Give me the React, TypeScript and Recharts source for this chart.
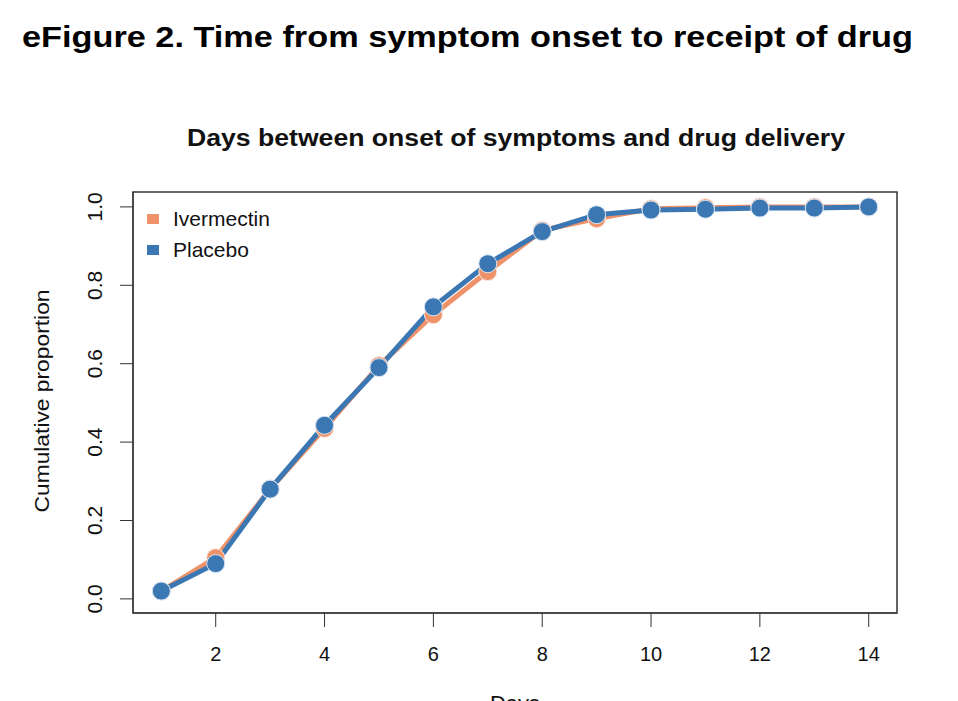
import React from 'react';
import { LineChart, Line, XAxis, YAxis, ReferenceArea, Legend } from 'recharts';

const days = [1, 2, 3, 4, 5, 6, 7, 8, 9, 10, 11, 12, 13, 14];
const ivermectin = [0.02, 0.105, 0.28, 0.435, 0.595, 0.725, 0.835, 0.94, 0.97, 0.995, 0.998, 1.0, 1.0, 1.0];
const placebo = [0.02, 0.09, 0.28, 0.443, 0.59, 0.745, 0.855, 0.937, 0.98, 0.992, 0.994, 0.997, 0.997, 1.0];
const xTicks = [2, 4, 6, 8, 10, 12, 14];
const yTicks = [0, 0.2, 0.4, 0.6, 0.8, 1.0];

const data = days.map((d, i) => ({ day: d, ivermectin: ivermectin[i], placebo: placebo[i] }));

const ORANGE = '#ef9269';
const BLUE = '#3b77b3';
const FONT = '"Liberation Sans", Arial, Helvetica, sans-serif';

const YTick = (props: any) => {
  const { x, y, payload } = props;
  return (
    <text x={x} y={y} transform={`rotate(-90 ${x} ${y})`} textAnchor="middle" fontSize={21} fill="#111" fontFamily={FONT}>
      {payload.value.toFixed(1)}
    </text>
  );
};

const XTick = (props: any) => {
  const { x, y, payload } = props;
  return (
    <text x={x} y={y + 32} textAnchor="middle" fontSize={20} fill="#111" fontFamily={FONT}>
      {payload.value}
    </text>
  );
};

const LegendBox = (props: any) => (
  <div style={{ fontFamily: FONT, fontSize: 21, color: '#111', lineHeight: '31px' }}>
    {props.payload.map((p: any) => (
      <div key={p.value} style={{ display: 'flex', alignItems: 'center', height: 31 }}>
        <span style={{ width: 12, height: 10, background: p.color, display: 'inline-block', marginRight: 14 }} />
        {p.value}
      </div>
    ))}
  </div>
);

export default function App() {
  return (
    <div style={{ position: 'absolute', left: 0, top: 0, width: 958, height: 701, background: '#fff', overflow: 'hidden' }}>
      <div style={{ position: 'absolute', left: 0, top: 0 }}>
        <LineChart width={958} height={701} data={data} margin={{ top: 192, right: 61, bottom: 48, left: 20 }}>
          <XAxis
            dataKey="day"
            type="number"
            domain={[0.48, 14.52]}
            ticks={xTicks}
            tickSize={14}
            tick={<XTick />}
            stroke="#333"
            height={40}
            label={({ viewBox }: any) => (
              <text x={viewBox.x + viewBox.width / 2} y={711} textAnchor="middle" fontSize={22} fill="#111" fontFamily={FONT}>
                Days
              </text>
            )}
          />
          <YAxis
            type="number"
            domain={[-0.036, 1.038]}
            ticks={yTicks}
            tickSize={13}
            tickMargin={18}
            tick={<YTick />}
            stroke="#333"
            width={113}
            label={() => (
              <text
                x={49}
                y={401}
                transform={`rotate(-90 49 401)`}
                textAnchor="middle"
                fontSize={21}
                textLength={223}
                lengthAdjust="spacingAndGlyphs"
                fill="#111"
                fontFamily={FONT}
              >
                Cumulative proportion
              </text>
            )}
          />
          <ReferenceArea x1={0.48} x2={14.52} y1={-0.036} y2={1.038} fill="none" stroke="#333" strokeWidth={1.5} ifOverflow="visible" />
          <Legend
            layout="vertical"
            verticalAlign="middle"
            align="center"
            content={<LegendBox />}
            wrapperStyle={{ position: 'absolute', left: 147, top: 203, width: 200 }}
          />
          <Line
            name="Ivermectin"
            dataKey="ivermectin"
            stroke={ORANGE}
            strokeWidth={5}
            dot={{ r: 9, fill: ORANGE, stroke: '#fbe3d8', strokeWidth: 1 }}
            isAnimationActive={false}
          />
          <Line
            name="Placebo"
            dataKey="placebo"
            stroke={BLUE}
            strokeWidth={5}
            dot={{ r: 9, fill: BLUE, stroke: '#d6e4f2', strokeWidth: 1 }}
            isAnimationActive={false}
          />
        </LineChart>
      </div>
      <svg width={958} height={180} style={{ position: 'absolute', left: 0, top: 0, pointerEvents: 'none' }}>
        <text x={22} y={47} fontSize={30} fontWeight="bold" fontFamily={FONT} fill="#000" textLength={891} lengthAdjust="spacingAndGlyphs">
          eFigure 2. Time from symptom onset to receipt of drug
        </text>
        <text x={187} y={146} fontSize={23} fontWeight="bold" fontFamily={FONT} fill="#111" textLength={658} lengthAdjust="spacingAndGlyphs">
          Days between onset of symptoms and drug delivery
        </text>
      </svg>
    </div>
  );
}
